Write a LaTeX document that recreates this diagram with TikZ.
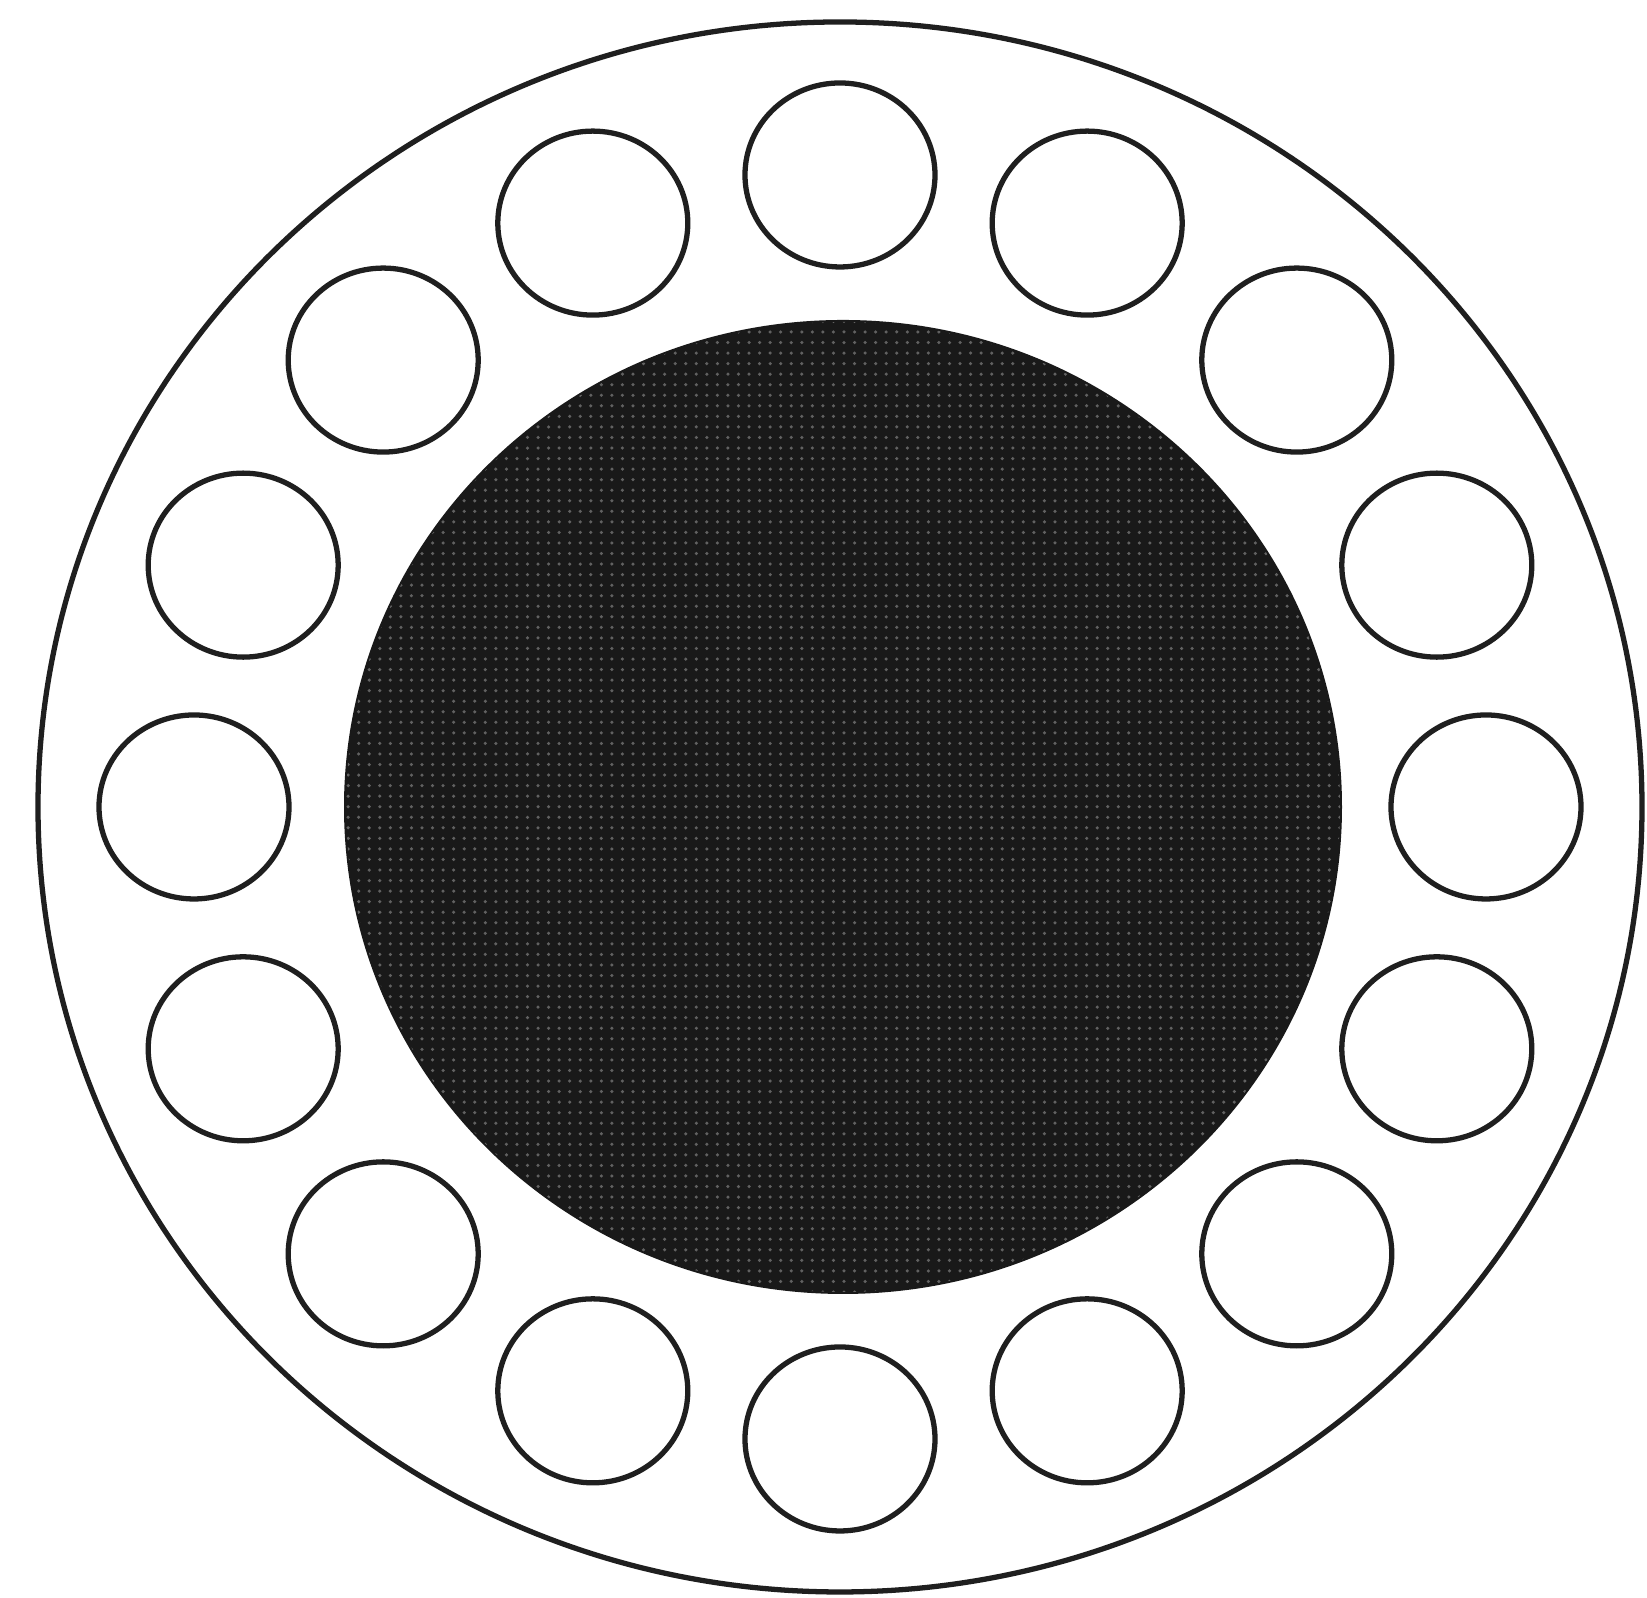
\documentclass[tikz,border=0pt]{standalone}
\usepackage{tikz}
\usetikzlibrary{patterns, calc}

\begin{document}
\begin{tikzpicture}[
  x=0.01cm, y=0.01cm,
  rim/.style={draw=black!88, line width=1.5pt},
  core/.style={fill=black!90, draw=none},
  coredots/.style={pattern=dots, pattern color=black!62},
  hole/.style={draw=black!88, line width=1.5pt, fill=white}
]
\useasboundingbox[fill=white] (0,0) rectangle (1647,1598);
\coordinate (c) at (840,791);
\coordinate (k) at (843,791);
% outer disc
\draw[rim] (c) ellipse [x radius=802, y radius=785];
% dark core
\fill[core] (k) ellipse [x radius=499, y radius=487];
\fill[coredots] (k) ellipse [x radius=497, y radius=485];
% ring of holes
\foreach \i in {0,...,15}{
  \draw[hole] ($(c)+({646*cos(90+22.5*\i)},{632*sin(90+22.5*\i)})$)
    ellipse [x radius=95, y radius=92];
}
\end{tikzpicture}
\end{document}
